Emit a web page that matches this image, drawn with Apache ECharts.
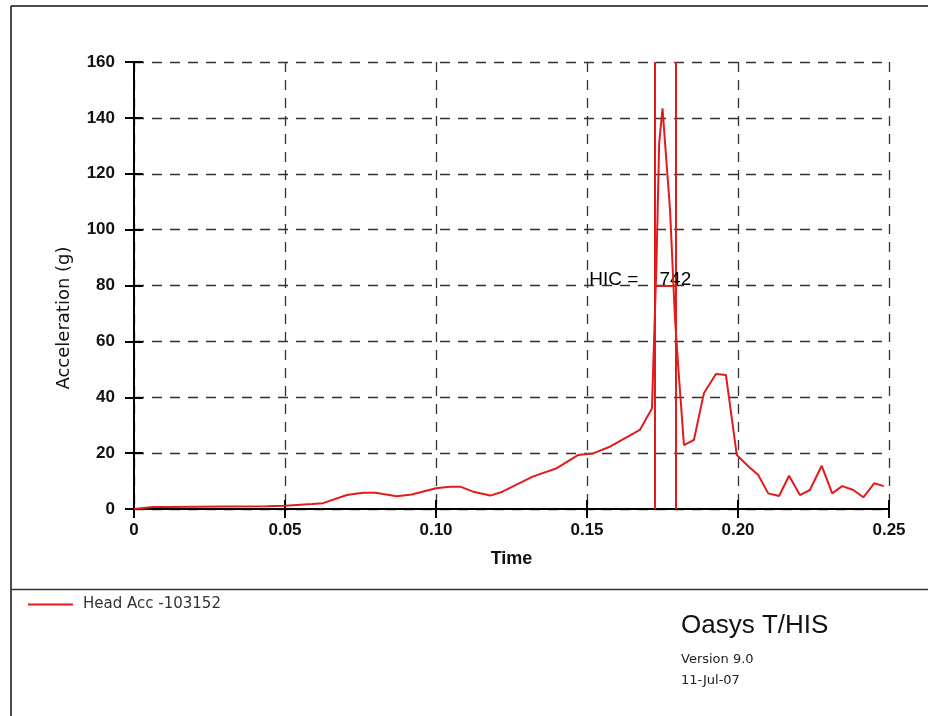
<!DOCTYPE html>
<html>
<head>
<meta charset="utf-8">
<script src="https://cdn.jsdelivr.net/npm/echarts@6/dist/echarts.min.js"></script>
<style>
html,body{margin:0;padding:0;background:#fff;}
#chart{width:928px;height:716px;}
</style>
</head>
<body>
<div id="chart"></div>
<script>
// ---- data ----
var seriesName = 'Head Acc -103152';
var time = [0, 0.0063, 0.012, 0.02, 0.03, 0.044, 0.05, 0.059, 0.0626, 0.0705, 0.0758, 0.080, 0.087, 0.092, 0.100, 0.1046, 0.108, 0.1123, 0.118, 0.122, 0.132, 0.140, 0.147, 0.152, 0.1576, 0.1675, 0.1715, 0.1730, 0.1739, 0.1750, 0.1775, 0.1791, 0.1802, 0.1821, 0.1854, 0.1887, 0.1927, 0.1960, 0.1996, 0.2034, 0.2067, 0.2100, 0.2136, 0.2169, 0.2205, 0.2238, 0.2277, 0.2312, 0.2345, 0.2382, 0.2415, 0.2451, 0.2483];
var accel = [0, 0.7, 0.7, 0.8, 0.9, 1.0, 1.2, 1.8, 2.1, 5.0, 5.8, 5.8, 4.6, 5.2, 7.4, 8.0, 8.0, 6.2, 4.8, 6.2, 11.6, 14.6, 19.3, 19.9, 22.3, 28.3, 36, 87.9, 130.9, 143.4, 107, 68.8, 51, 22.9, 24.7, 41.4, 48.3, 48, 19.3, 15.3, 12.2, 5.6, 4.65, 11.9, 5.0, 6.8, 15.5, 5.6, 8.2, 6.8, 4.2, 9.2, 8.2];
var xTickLabels = ['0', '0.05', '0.10', '0.15', '0.20', '0.25'];
var yTickLabels = ['0', '20', '40', '60', '80', '100', '120', '140', '160'];
var hicStart = 0.1723;
var hicEnd = 0.1795;
var hicLevel = 80;
var hicValue = 742;

var points = time.map(function (t, i) { return [t, accel[i]]; });

var RED = '#e31b1b';
var tickFont = {fontFamily: 'Liberation Sans', fontSize: 17, fontWeight: 'bold', color: '#111'};
var axisLineStyle = {color: '#000', width: 2};
var gridLineStyle = {color: '#333', width: 1.3, type: [10, 8]};

var chart = echarts.init(document.getElementById('chart'), null, {renderer: 'canvas'});
chart.setOption({
  animation: false,
  backgroundColor: '#fff',
  grid: {left: 134, right: 39, top: 62, bottom: 207, containLabel: false},
  legend: {
    data: [{name: seriesName, icon: 'rect'}],
    left: 28, top: 597, padding: 0,
    itemWidth: 45, itemHeight: 2,
    selectedMode: false,
    textStyle: {fontFamily: 'DejaVu Sans', fontSize: 15, color: '#333', padding: [2, 0, 0, 5]}
  },
  xAxis: [{
    type: 'value', position: 'bottom', min: 0, max: 0.25, interval: 0.05,
    name: 'Time', nameLocation: 'middle', nameGap: 41,
    nameTextStyle: {fontFamily: 'Liberation Sans', fontSize: 18, fontWeight: 'bold', color: '#111'},
    axisLine: {show: true, lineStyle: axisLineStyle},
    axisTick: {show: true, inside: false, length: 9, lineStyle: axisLineStyle},
    axisLabel: Object.assign({margin: 13, formatter: function (v) { return xTickLabels[Math.round(v / 0.05)]; }}, tickFont),
    splitLine: {show: true, lineStyle: gridLineStyle}
  }, {
    type: 'value', position: 'top', min: 0, max: 0.25, interval: 0.05,
    axisLine: {show: true, lineStyle: axisLineStyle},
    axisTick: {show: true, inside: false, length: 9, lineStyle: axisLineStyle},
    axisLabel: {show: false},
    splitLine: {show: false}
  }],
  yAxis: [{
    type: 'value', position: 'left', min: 0, max: 160, interval: 20,
    axisLine: {show: true, lineStyle: axisLineStyle},
    axisTick: {show: true, inside: false, length: 9, lineStyle: axisLineStyle},
    axisLabel: Object.assign({margin: 19, formatter: function (v) { return yTickLabels[Math.round(v / 20)]; }}, tickFont),
    splitLine: {show: true, lineStyle: gridLineStyle}
  }, {
    type: 'value', position: 'right', min: 0, max: 160, interval: 20,
    axisLine: {show: true, lineStyle: axisLineStyle},
    axisTick: {show: true, inside: false, length: 9, lineStyle: axisLineStyle},
    axisLabel: {show: false},
    splitLine: {show: false}
  }],
  series: [{
    name: seriesName,
    type: 'line',
    xAxisIndex: 0, yAxisIndex: 0,
    data: points,
    showSymbol: false,
    symbol: 'none',
    color: RED,
    lineStyle: {color: RED, width: 2},
    z: 5,
    markLine: {
      silent: true,
      precision: 6,
      symbol: ['none', 'none'],
      label: {show: false},
      lineStyle: {color: RED, width: 2, type: 'solid'},
      data: [
        {xAxis: hicStart},
        {xAxis: hicEnd},
        [{coord: [hicStart, hicLevel]}, {coord: [hicEnd, hicLevel]}]
      ]
    },
    markPoint: {
      silent: true,
      symbol: 'circle',
      symbolSize: 0,
      data: [{coord: [hicStart, hicLevel], value: hicValue}],
      label: {
        show: true,
        position: [-65, 4],
        align: 'left',
        verticalAlign: 'bottom',
        fontFamily: 'Liberation Sans',
        fontSize: 19,
        color: '#000',
        formatter: function (p) { return 'HIC =    ' + p.value; }
      }
    }
  }],
  graphic: [
    {type: 'line', shape: {x1: 11, y1: 6, x2: 928, y2: 6}, style: {stroke: '#111', lineWidth: 1.5}},
    {type: 'line', shape: {x1: 11, y1: 6, x2: 11, y2: 716}, style: {stroke: '#111', lineWidth: 1.5}},
    {type: 'line', shape: {x1: 11, y1: 589.5, x2: 928, y2: 589.5}, style: {stroke: '#333', lineWidth: 1.5}},
    {type: 'text', x: 64, y: 318, rotation: Math.PI / 2,
      style: {text: 'Acceleration (g)', font: '18px "DejaVu Sans"', fill: '#111', textAlign: 'center', textVerticalAlign: 'middle'}},
    {type: 'text', x: 681, y: 626,
      style: {text: 'Oasys T/HIS', font: '26px "Liberation Sans"', fill: '#111', textAlign: 'left', textVerticalAlign: 'middle'}},
    {type: 'text', x: 681, y: 660,
      style: {text: 'Version 9.0', font: '13px "DejaVu Sans"', fill: '#222', textAlign: 'left', textVerticalAlign: 'middle'}},
    {type: 'text', x: 681, y: 681,
      style: {text: '11-Jul-07', font: '13px "DejaVu Sans"', fill: '#222', textAlign: 'left', textVerticalAlign: 'middle'}}
  ]
});
</script>
</body>
</html>
